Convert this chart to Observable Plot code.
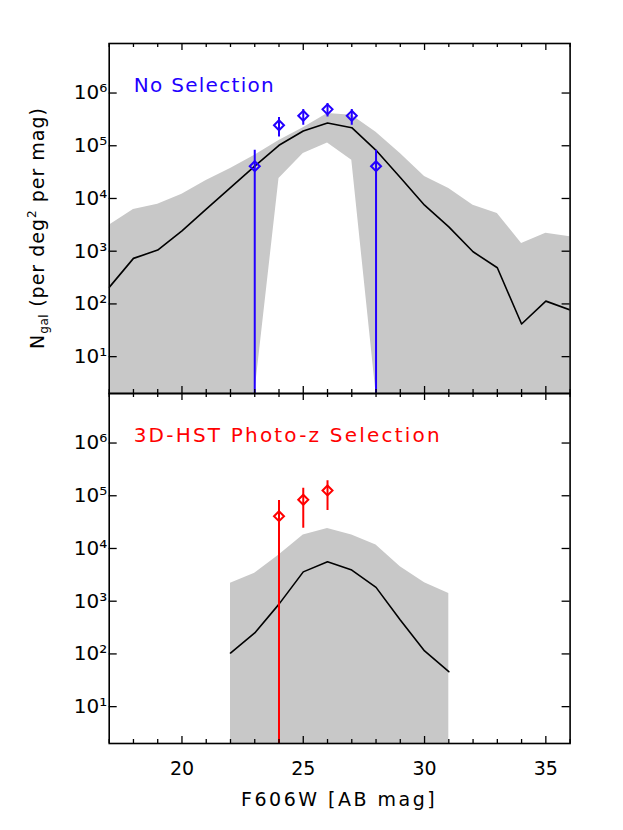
<!DOCTYPE html>
<html>
<head>
<meta charset="utf-8">
<script src="https://cdn.jsdelivr.net/npm/d3@7"></script>
<script src="https://cdn.jsdelivr.net/npm/@observablehq/plot@0.6"></script>
<style>
  html, body { margin: 0; padding: 0; background: white; }
  #chart { position: relative; width: 623px; height: 830px; font-family: "DejaVu Sans", sans-serif; }
  #chart svg { overflow: visible; }
  .panel { position: absolute; left: 0; }
  #ylab {
    position: absolute; left: 38px; top: 228px;
    transform: translate(-50%, -50%) rotate(-90deg);
    white-space: nowrap; font-size: 19px; letter-spacing: 1px; color: black;
  }
  #ylab sub { font-size: 12px; vertical-align: -4px; letter-spacing: 0.5px; }
  #ylab sup { font-size: 12px; vertical-align: 8px; }
</style>
</head>
<body>
<div id="chart">
  <div id="top" class="panel" style="top:0px"></div>
  <div id="bot" class="panel" style="top:393px"></div>
  <div id="ylab">N<sub>gal</sub> (per deg<sup>2</sup> per mag)</div>
</div>
<script>
// ---- data ----
// top panel: no selection
const magTop    = [17, 18, 19, 20, 21, 22, 23, 24, 25, 26, 27, 28, 29, 30, 31, 32, 33, 34, 35, 36];
const medianTop = [206, 731, 1050, 2430, 6300, 16000, 41000, 102000, 190000, 270000, 220000, 82000, 25000, 7470, 2900, 975, 485, 41.6, 113, 77];
const upperTop  = [3100, 6200, 7800, 12000, 22000, 37000, 66000, 126000, 220000, 410000, 380000, 180000, 71000, 26000, 15500, 7400, 5200, 1400, 2200, 1870];
const lowerTop  = [2, 2, 2, 2, 2, 2, 2, 24000, 71000, 113000, 53000, 2, 2, 2, 2, 2, 2, 2, 2, 2];
const obsMagTop = [23, 24, 25, 26, 27, 28];
const obsTop    = [41000, 245000, 370000, 490000, 370000, 41000];
const obsTopLo  = [2, 147000, 244000, 352000, 244000, 2];
const obsTopHi  = [82000, 343000, 485000, 631000, 485000, 82000];

// bottom panel: 3D-HST photo-z selection
const magBot    = [22, 23, 24, 25, 26, 27, 28, 29, 30, 31];
const medianBot = [104, 250, 880, 3600, 5600, 3900, 1830, 440, 114, 46];
const upperBot  = [2180, 3400, 7500, 18000, 24000, 18000, 11700, 4500, 2250, 1400];
const lowerBot  = [2, 2, 2, 2, 2, 2, 2, 2, 2, 2];
const obsMagBot = [24, 25, 26];
const obsBot    = [41000, 84000, 126000];
const obsBotLo  = [2, 24200, 52500];
const obsBotHi  = [81000, 139000, 192000];

// axes
const xDomain = [17, 36];
const yDomain = [2, 8.7e6];
const xMajor = [20, 25, 30, 35];
const xMinor = [17, 18, 19, 21, 22, 23, 24, 26, 27, 28, 29, 31, 32, 33, 34, 36];
const yMajor = [1e1, 1e2, 1e3, 1e4, 1e5, 1e6];
const supDigits = {"0":"⁰","1":"¹","2":"²","3":"³","4":"⁴","5":"⁵","6":"⁶","7":"⁷","8":"⁸","9":"⁹"};
const fmtPow = d => "10" + String(Math.round(Math.log10(d))).split("").map(c => supDigits[c]).join("");

const titleTop = "No Selection";
const titleBot = "3D-HST Photo-z Selection";
const xLabel = "F606W [AB mag]";

const BLUE = "#2200ff";
const RED = "#ff0000";
const GREY = "#c8c8c8";

const W = 623, ML = 108.7, MR = 53.4, FH = 350;
const FW = W - ML - MR;

function rows(xs, cols) {
  return xs.map((x, i) => {
    const r = {x};
    for (const k in cols) r[k] = cols[k][i];
    return r;
  });
}

function panel({mags, median, upper, lower, obsMag, obs, lo, hi, color, title, spacing, bottom}) {
  const band = rows(mags, {med: median, up: upper, low: lower});
  const pts = rows(obsMag, {y: obs, lo, hi});
  const marks = [
    Plot.areaY(band, {x: "x", y1: "low", y2: "up", fill: GREY, clip: true}),
    Plot.line(band, {x: "x", y: "med", stroke: "black", strokeWidth: 1.6, clip: true}),
    Plot.ruleX(pts, {x: "x", y1: "lo", y2: "hi", stroke: color, strokeWidth: 2, clip: true}),
    Plot.dot(pts, {x: "x", y: "y", symbol: "diamond2", r: 4.5, stroke: color, strokeWidth: 2, fill: "none"}),
    // inward ticks, mirrored on all four sides
    Plot.tickX(xMajor, {x: d => d, insetTop: FH - 7, stroke: "black", strokeWidth: 1.3}),
    Plot.tickX(xMinor, {x: d => d, insetTop: FH - 4, stroke: "black", strokeWidth: 1.3}),
    Plot.tickX(xMajor, {x: d => d, insetBottom: FH - 7, stroke: "black", strokeWidth: 1.3}),
    Plot.tickX(xMinor, {x: d => d, insetBottom: FH - 4, stroke: "black", strokeWidth: 1.3}),
    Plot.tickY(yMajor, {y: d => d, insetRight: FW - 8, stroke: "black", strokeWidth: 1.3}),
    Plot.tickY(yMajor, {y: d => d, insetLeft: FW - 8, stroke: "black", strokeWidth: 1.3}),
    Plot.axisY({anchor: "left", ticks: yMajor, tickSize: 0, tickPadding: 2, tickFormat: fmtPow, label: null, fontSize: 20}),
    Plot.text([title], {frameAnchor: "top-left", dx: 24.5, dy: 34, text: d => d, fill: color, fontSize: 20, textAnchor: "start", lineAnchor: "top"}),
    Plot.frame({stroke: "black", strokeWidth: 1.6})
  ];
  if (bottom) {
    marks.push(Plot.axisX({anchor: "bottom", ticks: xMajor, tickSize: 0, tickPadding: 18, label: null, fontSize: 19}));
  }
  const svg = Plot.plot({
    width: W,
    height: bottom ? FH + 87 : FH + 43,
    marginLeft: ML,
    marginRight: MR,
    marginTop: bottom ? 0 : 43,
    marginBottom: bottom ? 87 : 0,
    style: {fontFamily: "DejaVu Sans", fontSize: "19px", background: "transparent", overflow: "visible"},
    x: {domain: xDomain, axis: null},
    y: {type: "log", domain: yDomain, axis: null},
    marks
  });
  // widen the panel title's letter spacing like the original
  svg.querySelectorAll("text").forEach(t => {
    if (t.textContent === title) t.setAttribute("letter-spacing", spacing);
  });
  return svg;
}

document.getElementById("top").append(panel({
  mags: magTop, median: medianTop, upper: upperTop, lower: lowerTop,
  obsMag: obsMagTop, obs: obsTop, lo: obsTopLo, hi: obsTopHi,
  color: BLUE, title: titleTop, spacing: 1.3, bottom: false
}));
document.getElementById("bot").append(panel({
  mags: magBot, median: medianBot, upper: upperBot, lower: lowerBot,
  obsMag: obsMagBot, obs: obsBot, lo: obsBotLo, hi: obsBotHi,
  color: RED, title: titleBot, spacing: 2.2, bottom: true
}));

// x-axis title below the plot
const xl = document.createElement("div");
xl.textContent = xLabel;
xl.style.cssText = "position:absolute;top:788px;left:" + (ML + FW / 2) + "px;transform:translateX(-50%);font-size:19px;letter-spacing:2.5px;white-space:nowrap;";
document.getElementById("chart").append(xl);
</script>
</body>
</html>
